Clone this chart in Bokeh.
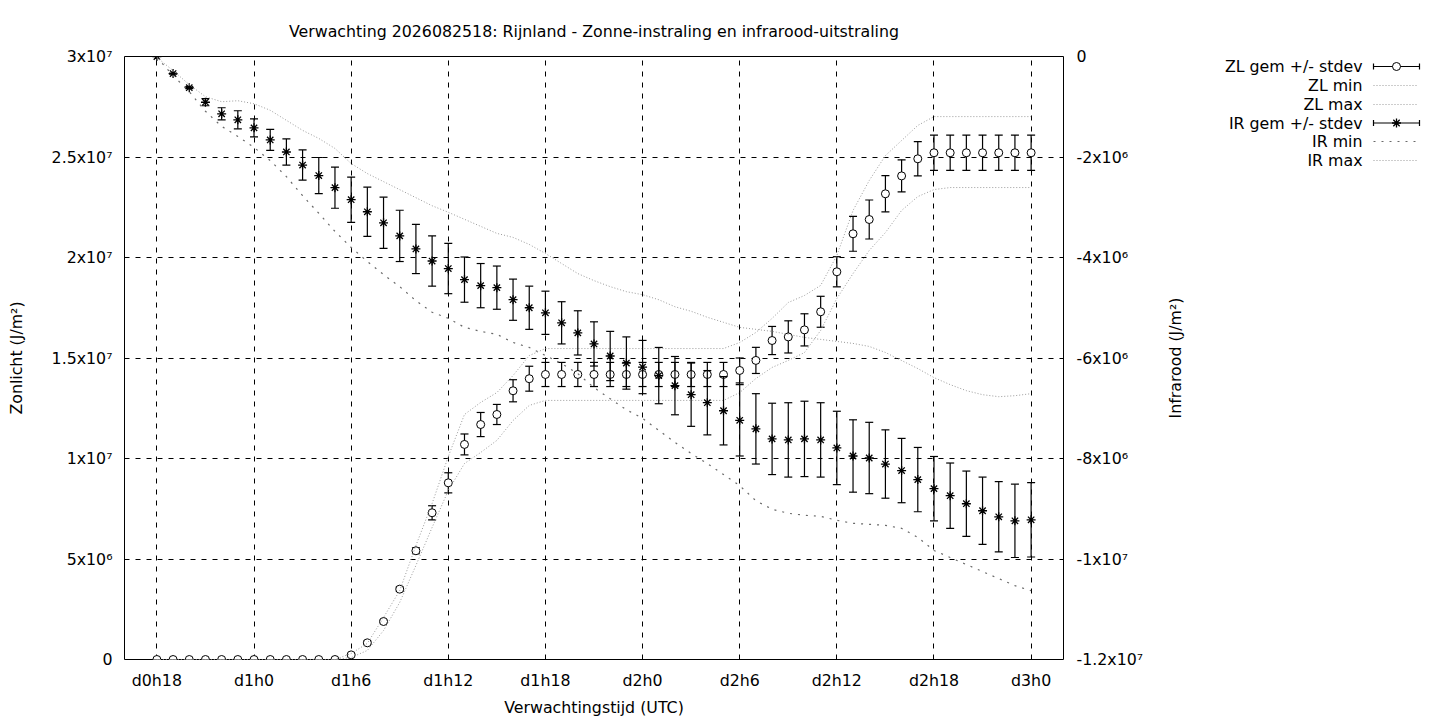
from bokeh.plotting import figure
from bokeh.models import Range1d, LinearAxis, FixedTicker
from bokeh.layouts import row
from bokeh.embed import file_html
from bokeh.resources import INLINE
from bokeh.core.properties import value
import math

FONT = "DejaVu Sans"
FS = "15.8px"

# ---------------- data (values in units of 1e6 J/m2) ----------------
hours = list(range(18, 73))  # forecast hour, d0h18 .. d3h0
tick_hours = [18, 24, 30, 36, 42, 48, 54, 60, 66, 72]
tick_labels = ["d0h18", "d1h0", "d1h6", "d1h12", "d1h18", "d2h0", "d2h6", "d2h12", "d2h18", "d3h0"]

zl_ticks = [0, 5, 10, 15, 20, 25, 30]
zl_tick_labels = ["0", "5x10\u2076", "1x10\u2077", "1.5x10\u2077", "2x10\u2077", "2.5x10\u2077", "3x10\u2077"]
ir_ticks = [-12, -10, -8, -6, -4, -2, 0]
ir_tick_labels = ["-1.2x10\u2077", "-1x10\u2077", "-8x10\u2076", "-6x10\u2076", "-4x10\u2076", "-2x10\u2076", "0"]

zl_mean = [0, 0, 0, 0, 0, 0, 0, 0, 0, 0, 0, 0,
           0.23, 0.83, 1.89, 3.50, 5.41, 7.30, 8.79, 10.70, 11.69, 12.19, 13.37, 13.97,
           14.18, 14.18, 14.18, 14.18, 14.18, 14.18, 14.18, 14.18, 14.18, 14.18, 14.18, 14.18,
           14.38, 14.88, 15.87, 16.05, 16.40, 17.30, 19.29, 21.18, 21.89, 23.17, 24.06, 24.91,
           25.21, 25.21, 25.21, 25.21, 25.21, 25.21, 25.21]
zl_std = [0, 0, 0, 0, 0, 0, 0, 0, 0, 0, 0, 0,
          0.05, 0.08, 0.07, 0.10, 0.15, 0.35, 0.50, 0.52, 0.60, 0.50, 0.55, 0.62,
          0.60, 0.60, 0.60, 0.60, 0.60, 0.60, 0.60, 0.60, 0.60, 0.60, 0.60, 0.60,
          0.62, 0.65, 0.70, 0.80, 0.80, 0.77, 0.75, 0.87, 0.97, 0.90, 0.80, 0.85,
          0.88, 0.88, 0.88, 0.88, 0.88, 0.88, 0.88]
zl_min = [0, 0, 0, 0, 0, 0, 0, 0, 0, 0, 0, 0,
          0.10, 0.45, 1.44, 2.84, 4.68, 6.57, 8.41, 9.75, 10.30, 10.90, 11.89, 12.64,
          12.89, 12.89, 12.89, 12.89, 12.89, 12.89, 12.89, 12.89, 12.89, 12.89, 12.89, 12.89,
          13.28, 13.98, 14.53, 14.88, 15.27, 16.37, 17.96, 19.20, 20.35, 21.24, 22.34, 23.03,
          23.38, 23.48, 23.48, 23.48, 23.48, 23.48, 23.48]
zl_max = [0, 0, 0, 0, 0, 0, 0, 0, 0, 0, 0, 0,
          0.30, 0.80, 2.09, 3.43, 5.67, 7.76, 10.10, 12.19, 12.79, 13.28, 14.13, 15.12,
          15.47, 15.47, 15.47, 15.47, 15.47, 15.47, 15.47, 15.47, 15.47, 15.47, 15.47, 15.47,
          15.77, 16.27, 16.97, 17.76, 18.11, 18.61, 20.10, 22.34, 23.83, 25.07, 25.82, 26.57,
          27.01, 27.01, 27.01, 27.01, 27.01, 27.01, 27.01]

ir_mean = [0.0, -0.34, -0.62, -0.91, -1.14, -1.26, -1.42, -1.66, -1.90, -2.16, -2.37, -2.61,
           -2.85, -3.09, -3.31, -3.57, -3.83, -4.07, -4.22, -4.44, -4.56, -4.60, -4.84, -5.00,
           -5.10, -5.30, -5.50, -5.72, -5.96, -6.10, -6.18, -6.35, -6.55, -6.73, -6.89, -7.05,
           -7.24, -7.41, -7.61, -7.63, -7.61, -7.63, -7.79, -7.95, -7.99, -8.11, -8.24, -8.42,
           -8.60, -8.74, -8.90, -9.04, -9.16, -9.24, -9.22]
ir_std = [0.0, 0.01, 0.02, 0.07, 0.12, 0.18, 0.18, 0.21, 0.26, 0.30, 0.36, 0.41,
          0.45, 0.49, 0.51, 0.51, 0.49, 0.50, 0.50, 0.45, 0.44, 0.43, 0.41, 0.43,
          0.43, 0.42, 0.44, 0.44, 0.49, 0.52, 0.53, 0.56, 0.58, 0.63, 0.64, 0.68,
          0.71, 0.70, 0.71, 0.74, 0.75, 0.74, 0.73, 0.72, 0.71, 0.68, 0.64, 0.64,
          0.64, 0.65, 0.65, 0.67, 0.70, 0.73, 0.74]
ir_min = [-0.02, -0.38, -0.70, -1.09, -1.39, -1.59, -1.81, -2.07, -2.39, -2.77, -3.12, -3.48,
          -3.80, -4.08, -4.34, -4.58, -4.86, -5.09, -5.21, -5.39, -5.47, -5.53, -5.69, -5.79,
          -5.95, -6.11, -6.31, -6.59, -6.81, -7.03, -7.20, -7.44, -7.68, -7.90, -8.10, -8.32,
          -8.54, -8.84, -9.01, -9.09, -9.13, -9.15, -9.23, -9.29, -9.31, -9.33, -9.39, -9.57,
          -9.83, -9.97, -10.11, -10.25, -10.39, -10.53, -10.63]
ir_max = [-0.02, -0.28, -0.56, -0.80, -0.90, -0.88, -0.94, -1.07, -1.27, -1.47, -1.63, -1.83,
          -2.13, -2.33, -2.49, -2.65, -2.81, -2.97, -3.10, -3.24, -3.38, -3.52, -3.60, -3.74,
          -3.92, -4.12, -4.32, -4.46, -4.58, -4.68, -4.74, -4.84, -4.98, -5.07, -5.19, -5.29,
          -5.39, -5.43, -5.47, -5.53, -5.59, -5.63, -5.67, -5.71, -5.77, -5.89, -6.05, -6.21,
          -6.39, -6.53, -6.65, -6.73, -6.77, -6.75, -6.71]

legend_labels = ["ZL gem +/- stdev", "ZL min", "ZL max", "IR gem +/- stdev", "IR min", "IR max"]
title_text = "Verwachting 2026082518: Rijnland - Zonne-instraling en infrarood-uitstraling"
right_label = "Infrarood (J/m\u00b2)"

# ---------------- styles / layout ----------------
DOT_LIGHT = dict(line_color="#9a9a9a", line_width=1, line_dash="1 2")
DOT_SPARSE = dict(line_color="#6a6a6a", line_width=1.2, line_dash="2 6")

H = 720
FRAME_L, FRAME_R, FRAME_T, FRAME_B = 124, 1063, 56, 659
W1 = 1150
W2 = 1432 - W1

p = figure(width=W1, height=H, x_range=Range1d(16, 74), y_range=Range1d(0, 30),
           output_backend="svg", toolbar_location=None, title=title_text,
           min_border_left=FRAME_L, min_border_right=W1 - FRAME_R,
           min_border_top=FRAME_T, min_border_bottom=H - FRAME_B)
p.extra_y_ranges = {"ir": Range1d(-12, 0)}
p.background_fill_color = "white"
p.border_fill_color = "white"
p.outline_line_color = "black"
p.outline_line_width = 1

p.title.text_font = FONT
p.title.text_font_size = FS
p.title.text_font_style = "normal"
p.title.text_color = "black"
p.title.align = "center"
p.title.standoff = 32

zl_lo = [m - s for m, s in zip(zl_mean, zl_std)]
zl_hi = [m + s for m, s in zip(zl_mean, zl_std)]
ir_lo = [m - s for m, s in zip(ir_mean, ir_std)]
ir_hi = [m + s for m, s in zip(ir_mean, ir_std)]

# ZL
p.segment(x0=hours, y0=zl_lo, x1=hours, y1=zl_hi, line_color="black", line_width=1.2)
p.scatter(x=hours, y=zl_lo, marker="dash", size=8, line_color="black", line_width=1.2)
p.scatter(x=hours, y=zl_hi, marker="dash", size=8, line_color="black", line_width=1.2)
p.scatter(x=hours, y=zl_mean, marker="circle", size=8, line_color="black", line_width=1, fill_color="white")
p.line(x=hours, y=zl_min, **DOT_LIGHT)
p.line(x=hours, y=zl_max, **DOT_LIGHT)

# IR
p.segment(x0=hours, y0=ir_lo, x1=hours, y1=ir_hi, line_color="black", line_width=1.2, y_range_name="ir")
p.scatter(x=hours, y=ir_lo, marker="dash", size=8, line_color="black", line_width=1.2, y_range_name="ir")
p.scatter(x=hours, y=ir_hi, marker="dash", size=8, line_color="black", line_width=1.2, y_range_name="ir")
p.scatter(x=hours, y=ir_mean, marker="asterisk", size=9, line_color="black", line_width=1.3, y_range_name="ir")
p.line(x=hours, y=ir_min, y_range_name="ir", **DOT_SPARSE)
p.line(x=hours, y=ir_max, y_range_name="ir", **DOT_LIGHT)

# axes
right = LinearAxis(y_range_name="ir")
p.add_layout(right, "right")

p.xaxis.ticker = FixedTicker(ticks=tick_hours)
p.xaxis.major_label_overrides = {h: lab for h, lab in zip(tick_hours, tick_labels)}
p.xaxis.axis_label = "Verwachtingstijd (UTC)"
p.yaxis[0].ticker = FixedTicker(ticks=zl_ticks)
p.yaxis[0].major_label_overrides = {t: lab for t, lab in zip(zl_ticks, zl_tick_labels)}
p.yaxis[0].axis_label = "Zonlicht (J/m\u00b2)"
right.ticker = FixedTicker(ticks=ir_ticks)
right.major_label_overrides = {t: lab for t, lab in zip(ir_ticks, ir_tick_labels)}

for ax in [p.xaxis[0], p.yaxis[0], right]:
    ax.axis_line_color = None
    ax.major_tick_in = 0
    ax.major_tick_out = 0
    ax.minor_tick_line_color = None
    ax.major_label_text_font = FONT
    ax.major_label_text_font_size = FS
    ax.major_label_text_color = "black"
    ax.axis_label_text_font = FONT
    ax.axis_label_text_font_size = FS
    ax.axis_label_text_font_style = "normal"
    ax.axis_label_text_color = "black"

p.xaxis[0].major_label_standoff = 11
p.xaxis[0].axis_label_standoff = 5
p.yaxis[0].major_label_standoff = 12
p.yaxis[0].axis_label_standoff = 23
right.major_label_standoff = 13

p.xgrid.ticker = FixedTicker(ticks=tick_hours)
p.ygrid.ticker = FixedTicker(ticks=zl_ticks)
for g in [p.xgrid[0], p.ygrid[0]]:
    g.grid_line_color = "black"
    g.grid_line_width = 1
    g.grid_line_dash = "5 6"
    g.grid_line_alpha = 1.0

# ---------------- side figure: right axis title + legend (page-pixel coordinates) ----------------
leg = figure(width=W2, height=H, x_range=Range1d(W1, W1 + W2), y_range=Range1d(FRAME_B, FRAME_T),
             output_backend="svg", toolbar_location=None, x_axis_type=None, y_axis_type=None,
             min_border_left=0, min_border_right=0, min_border_top=FRAME_T, min_border_bottom=H - FRAME_B)
leg.outline_line_color = None
leg.xgrid.visible = False
leg.ygrid.visible = False
leg.background_fill_color = "white"
leg.border_fill_color = "white"

leg.text(x=[1175], y=[(FRAME_T + FRAME_B) / 2], text=[right_label], angle=math.pi / 2,
         text_align="center", text_baseline="middle",
         text_font=value(FONT), text_font_size=value(FS), text_color="black")

rows_y = [66, 85, 104, 122.5, 141, 160]
leg.text(x=[1362] * 6, y=rows_y, text=legend_labels, text_align="right", text_baseline="middle",
         text_font=value(FONT), text_font_size=value(FS), text_color="black")
x0, x1, xm = 1373, 1419, 1396
for i in (0, 3):
    yy = rows_y[i]
    leg.segment(x0=[x0, x0, x1], y0=[yy, yy - 3, yy - 3], x1=[x1, x0, x1], y1=[yy, yy + 3, yy + 3],
                line_color="black", line_width=1.2)
leg.scatter(x=[xm], y=[rows_y[0]], marker="circle", size=8, line_color="black", line_width=1, fill_color="white")
leg.scatter(x=[xm], y=[rows_y[3]], marker="asterisk", size=9, line_color="black", line_width=1.3)
leg.line(x=[x0, 1417], y=[rows_y[1]] * 2, **DOT_LIGHT)
leg.line(x=[x0, 1417], y=[rows_y[2]] * 2, **DOT_LIGHT)
leg.line(x=[x0, 1417], y=[rows_y[4]] * 2, **DOT_SPARSE)
leg.line(x=[x0, 1417], y=[rows_y[5]] * 2, **DOT_LIGHT)

layout = row(p, leg)
open("out.html", "w").write(file_html(layout, INLINE))
